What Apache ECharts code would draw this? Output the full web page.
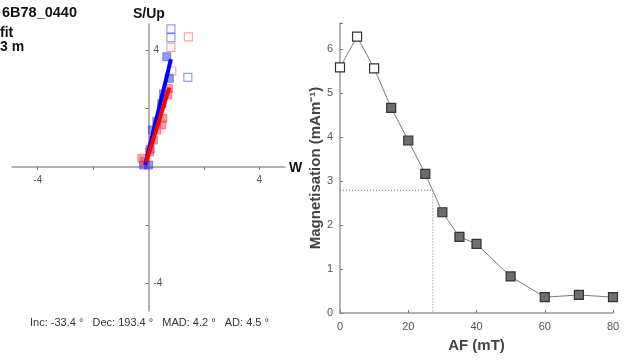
<!DOCTYPE html>
<html>
<head>
<meta charset="utf-8">
<script src="https://cdn.jsdelivr.net/npm/echarts@6/dist/echarts.min.js"></script>
<style>
  html, body { margin: 0; padding: 0; background: #fff; }
  #chart { width: 632px; height: 360px; }
</style>
</head>
<body>
<div id="chart"></div>
<script>
// Zijderveld projection: [W, S/Up]
const horizFitPts = [[0.66, 3.77], [0.75, 3.03], [0.54, 2.49], [0.48, 2.17], [0.30, 1.55], [0.14, 1.26], [0.06, 0.60], [-0.18, 0.06], [0.0, 0.06]];
const horizOpenPts = [[0.81, 4.72], [0.81, 4.42], [1.42, 3.06]];
const vertFitPts = [[0.72, 2.68], [0.70, 2.46], [0.52, 1.66], [0.48, 1.43], [0.30, 1.26], [0.18, 0.91], [0.04, 0.51], [-0.24, 0.29], [-0.14, 0.18]];
const vertOpenPts = [[1.44, 4.45], [0.81, 4.09], [0.84, 3.28]];
const horizFitLine = [[-0.12, 0.06], [0.81, 3.68]];
const vertFitLine = [[-0.08, 0.17], [0.75, 2.71]];
const zijTicks = [-4, -2, 2, 4];
const zijLabels = [-4, 4];

// AF demagnetisation curve
const afSteps = [0, 5, 10, 15, 20, 25, 30, 35, 40, 50, 60, 70, 80];
const magValues = [5.58, 6.28, 5.56, 4.66, 3.92, 3.16, 2.29, 1.73, 1.57, 0.83, 0.36, 0.41, 0.36];
const excludedSteps = [0, 5, 10];
const mdfField = 27.2;
const halfMag = 2.79;

const sampleName = '6B78_0440';
const statsText = 'Inc: -33.4 \u00b0   Dec: 193.4 \u00b0   MAD: 4.2 \u00b0   AD: 4.5 \u00b0';

const chart = echarts.init(document.getElementById('chart'), null, { renderer: 'canvas' });

const axisGray = '#9a9a9a';
const labelGray = '#555';

// Zijderveld axes cross at the origin: shift each axis from the grid edge to zero
const zGrid = { left: 12, top: 24, width: 273, height: 287 };
const zX = { min: -4.93, max: 4.93 };
const zY = { min: -4.94, max: 4.89 };
const xAxisShift = -zGrid.height * (0 - zY.min) / (zY.max - zY.min);
const yAxisShift = -zGrid.width * (0 - zX.min) / (zX.max - zX.min);

const curvePoints = afSteps.map((af, i) => ({
  value: [af, magValues[i]],
  itemStyle: excludedSteps.includes(af)
    ? { color: '#ffffff', borderColor: '#333', borderWidth: 1.2 }
    : { color: '#6e6e6e', borderColor: '#333', borderWidth: 1.2 }
}));

chart.setOption({
  animation: false,
  grid: [
    zGrid,
    { left: 340, top: 23, width: 273, height: 290 }
  ],
  xAxis: [
    {
      gridIndex: 0, type: 'value', min: zX.min, max: zX.max, position: 'bottom', offset: xAxisShift,
      splitLine: { show: false },
      axisLine: { onZero: false, lineStyle: { color: axisGray, width: 1.5 } },
      axisTick: { show: true, length: 3, customValues: zijTicks, lineStyle: { color: '#777' } },
      axisLabel: { customValues: zijLabels, color: labelGray, fontSize: 10, margin: 8, fontFamily: 'Liberation Sans' }
    },
    {
      gridIndex: 1, type: 'value', min: 0, max: 80, interval: 20,
      splitLine: { show: false },
      axisLine: { lineStyle: { color: axisGray, width: 1.5 } },
      axisTick: { inside: true, length: 3, lineStyle: { color: '#777' } },
      axisLabel: { color: labelGray, fontSize: 11, margin: 8, fontFamily: 'Liberation Sans' },
      name: 'AF (mT)', nameLocation: 'middle', nameGap: 25,
      nameTextStyle: { fontSize: 15, fontWeight: 'bold', color: '#444', fontFamily: 'Liberation Sans' }
    }
  ],
  yAxis: [
    {
      gridIndex: 0, type: 'value', min: zY.min, max: zY.max, position: 'left', offset: yAxisShift,
      splitLine: { show: false },
      axisLine: { show: true, onZero: false, lineStyle: { color: axisGray, width: 1.5 } },
      axisTick: { show: true, length: 3, customValues: zijTicks, lineStyle: { color: '#777' } },
      axisLabel: { inside: true, customValues: zijLabels, color: labelGray, fontSize: 10, margin: 5, fontFamily: 'Liberation Sans' }
    },
    {
      gridIndex: 1, type: 'value', min: 0, max: 6.59, interval: 1,
      splitLine: { show: false },
      axisLine: { show: true, lineStyle: { color: axisGray, width: 1.5 } },
      axisTick: { show: true, inside: true, length: 3, lineStyle: { color: '#777' } },
      axisLabel: { color: labelGray, fontSize: 11, margin: 7, fontFamily: 'Liberation Sans',
        formatter: v => (Number.isInteger(v) ? String(v) : '') },
      name: 'Magnetisation (mAm\u207b\u00b9)', nameLocation: 'middle', nameGap: 16,
      nameTextStyle: { fontSize: 15, fontWeight: 'bold', color: '#444', fontFamily: 'Liberation Sans' }
    }
  ],
  series: [
    {
      type: 'scatter', xAxisIndex: 0, yAxisIndex: 0, symbol: 'rect', symbolSize: 8,
      data: horizOpenPts,
      itemStyle: { color: 'rgba(255,255,255,0)', borderColor: 'rgba(60,60,255,0.65)', borderWidth: 1.2 }
    },
    {
      type: 'scatter', xAxisIndex: 0, yAxisIndex: 0, symbol: 'rect', symbolSize: 8,
      data: vertOpenPts,
      itemStyle: { color: 'rgba(255,255,255,0)', borderColor: 'rgba(255,70,70,0.6)', borderWidth: 1.2 }
    },
    {
      type: 'scatter', xAxisIndex: 0, yAxisIndex: 0, symbol: 'rect', symbolSize: 8,
      data: horizFitPts,
      itemStyle: { color: 'rgba(40,40,255,0.6)', borderColor: 'rgba(40,40,255,0.6)', borderWidth: 1 }
    },
    {
      type: 'scatter', xAxisIndex: 0, yAxisIndex: 0, symbol: 'rect', symbolSize: 8,
      data: vertFitPts,
      itemStyle: { color: 'rgba(255,40,40,0.55)', borderColor: 'rgba(255,40,40,0.55)', borderWidth: 1 }
    },
    {
      type: 'line', xAxisIndex: 0, yAxisIndex: 0, showSymbol: false,
      data: horizFitLine, lineStyle: { color: '#0000ff', width: 4 }
    },
    {
      type: 'line', xAxisIndex: 0, yAxisIndex: 0, showSymbol: false,
      data: vertFitLine, lineStyle: { color: '#ff0000', width: 4 }
    },
    {
      // median destructive field guide lines
      type: 'line', xAxisIndex: 1, yAxisIndex: 1, showSymbol: false, silent: true,
      data: [[0, halfMag], [mdfField, halfMag], [mdfField, 0]],
      lineStyle: { color: '#777', width: 1, type: [1, 2] }
    },
    {
      type: 'line', xAxisIndex: 1, yAxisIndex: 1, symbol: 'rect', symbolSize: 9,
      data: curvePoints,
      lineStyle: { color: '#7a7a7a', width: 1 }
    }
  ],
  graphic: [
    { type: 'text', left: 2, top: 5, style: { text: sampleName, font: 'bold 14.5px "Liberation Sans"', fill: '#111' } },
    { type: 'text', left: 0, top: 26, style: { text: 'fit', font: 'bold 14px "Liberation Sans"', fill: '#111' } },
    { type: 'text', left: 0, top: 40, style: { text: '3 m', font: 'bold 14px "Liberation Sans"', fill: '#111' } },
    { type: 'text', left: 133, top: 7, style: { text: 'S/Up', font: 'bold 14px "Liberation Sans"', fill: '#111' } },
    { type: 'text', left: 289, top: 161, style: { text: 'W', font: 'bold 14px "Liberation Sans"', fill: '#111' } },
    { type: 'text', left: 30, top: 317, style: { text: statsText, font: '11px "Liberation Sans"', fill: '#333' } }
  ]
});
</script>
</body>
</html>
